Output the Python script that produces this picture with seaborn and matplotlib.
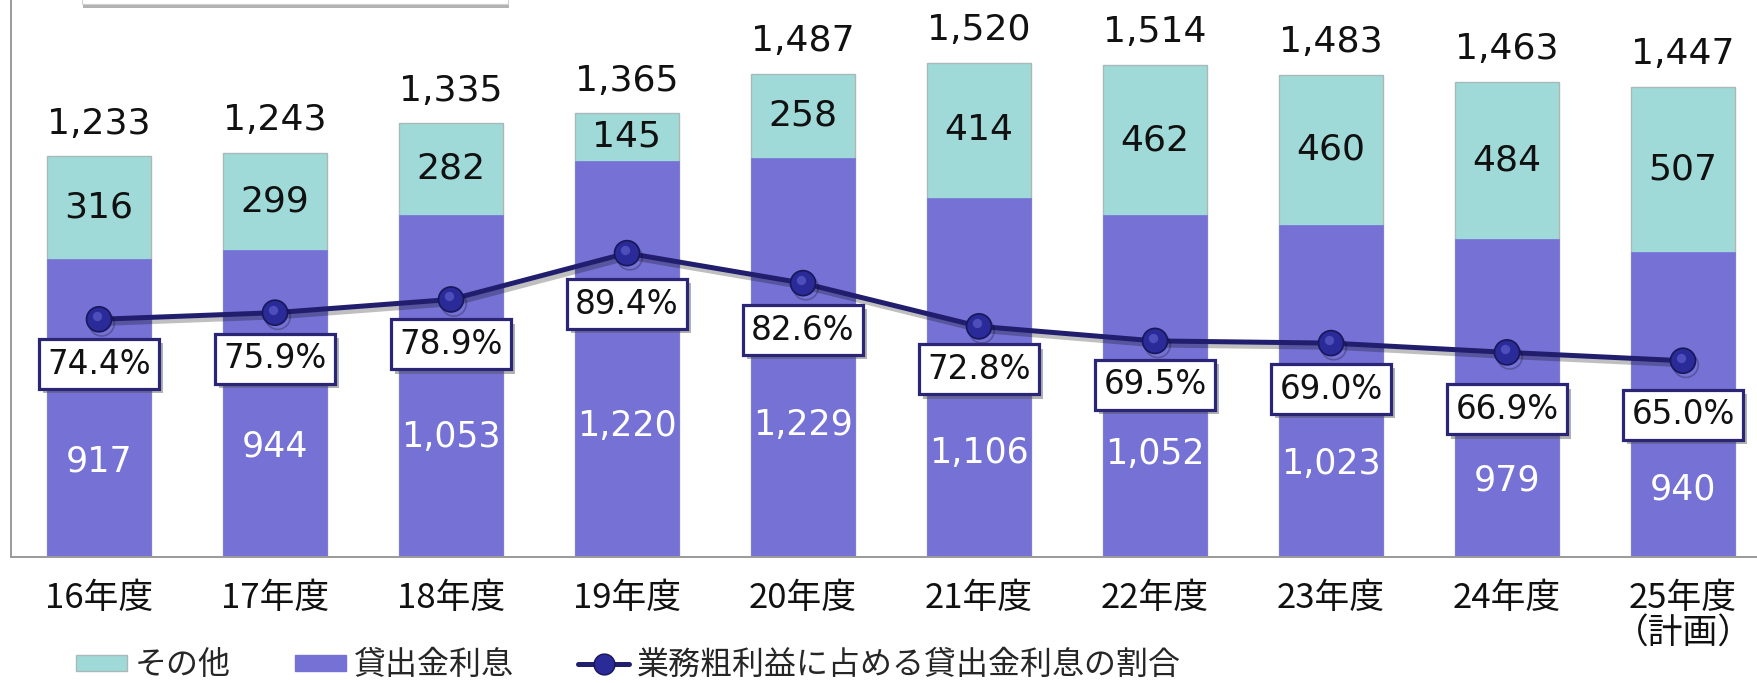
import numpy as np
import matplotlib
matplotlib.use("Agg")
import matplotlib.pyplot as plt
import matplotlib.patheffects as pe
import matplotlib.transforms as mtransforms
from matplotlib.patches import Patch, Rectangle
from matplotlib.lines import Line2D
import seaborn as sns

# --- data -------------------------------------------------------------
years = ["16年度", "17年度", "18年度", "19年度", "20年度",
         "21年度", "22年度", "23年度", "24年度", "25年度\n（計画）"]
loan_interest = [917, 944, 1053, 1220, 1229, 1106, 1052, 1023, 979, 940]
other_income = [316, 299, 282, 145, 258, 414, 462, 460, 484, 507]
gross_profit = [1233, 1243, 1335, 1365, 1487, 1520, 1514, 1483, 1463, 1447]
loan_ratio = [74.4, 75.9, 78.9, 89.4, 82.6, 72.8, 69.5, 69.0, 66.9, 65.0]

legend_labels = ["その他", "貸出金利息", "業務粗利益に占める貸出金利息の割合"]

# --- label layout -----------------------------------------------------
loan_label_frac = [0.32, 0.36, 0.35, 0.33, 0.33, 0.29, 0.30, 0.28, 0.24, 0.22]
ratio_label_drop = [45, 46, 45, 51, 47, 43, 44, 46, 57, 54]   # pixels below marker

# --- style ------------------------------------------------------------
TEAL = "#A0DAD8"
PURPLE = "#7672D5"
NAVY = "#221E6E"
MARKER = "#2A2A98"
CJK = ["Noto Sans CJK JP", "DejaVu Sans"]

sns.set_style("white")
plt.rcParams["font.family"] = ["DejaVu Sans", "Noto Sans CJK JP"]

W, H = 1758, 683
fig = plt.figure(figsize=(W / 100, H / 100), dpi=100)
fig.patch.set_facecolor("white")

# axes spans past the right edge of the canvas
ax = fig.add_axes([11 / W, (H - 557) / H, 1760 / W, 557 / H])
n = len(years)
x = np.arange(n)

df = {"year": years, "total": gross_profit, "loan": loan_interest}

# stacked bars: full height in teal, loan interest in purple over it
sns.barplot(x="year", y="total", data=df, color=TEAL, saturation=1,
            width=0.59, edgecolor="#A9B8B8", linewidth=1.0, ax=ax)
sns.barplot(x="year", y="loan", data=df, color=PURPLE, saturation=1,
            width=0.59, edgecolor=PURPLE, linewidth=0.5, ax=ax)

ax.set_xlim(-0.5, n - 0.5)
ax.set_ylim(0, 1714)
ax.set_xlabel("")
ax.set_ylabel("")
ax.set_yticks([])
ax.set_xticks(x)
ax.set_xticklabels(years, fontfamily=CJK, fontsize=25, color="#111111",
                   linespacing=1.05)
for lab in ax.get_xticklabels():
    lab.set_multialignment("center")
ax.tick_params(axis="x", which="major", length=0, pad=17)
ax.set_xticks(np.arange(0.5, n - 0.5, 1.0), minor=True)
ax.tick_params(axis="x", which="minor", direction="in", length=6,
               width=1.2, color="#9A9A9A")
for side in ("top", "right"):
    ax.spines[side].set_visible(False)
for side in ("left", "bottom"):
    ax.spines[side].set_color("#9A9A9A")
    ax.spines[side].set_linewidth(1.4)

# value labels on the bars
for i in range(n):
    ax.text(x[i], loan_interest[i] + other_income[i] / 2, f"{other_income[i]:,}",
            ha="center", va="center", fontsize=26, color="#111111")
    ax.text(x[i], loan_interest[i] * loan_label_frac[i], f"{loan_interest[i]:,}",
            ha="center", va="center", fontsize=25, color="white")
    ax.annotate(f"{gross_profit[i]:,}", (x[i], gross_profit[i]),
                xytext=(0, 23.5), textcoords="offset points",
                ha="center", va="center", fontsize=26, color="#111111")

# ratio line on a secondary scale
ax2 = ax.twinx()
sns.lineplot(x=x, y=loan_ratio, ax=ax2, color=NAVY, linewidth=3.6,
             marker="o", markersize=18, markerfacecolor=MARKER,
             markeredgecolor="#17175A", markeredgewidth=1.2,
             path_effects=[pe.SimpleLineShadow(offset=(2, -3), alpha=0.25),
                           pe.Normal()])
# soft highlight on each marker for a rounded look
hl = mtransforms.offset_copy(ax2.transData, fig=fig, x=-2, y=3, units="dots")
ax2.scatter(x, loan_ratio, s=45, color="#6A6AD8", alpha=0.55,
            linewidths=0, transform=hl, zorder=4)
ax2.set_ylim(20.5, 146.8)
ax2.set_xlim(-0.5, n - 0.5)
ax2.set_yticks([])
for side in ax2.spines:
    ax2.spines[side].set_visible(False)

for i in range(n):
    t = ax2.annotate(f"{loan_ratio[i]:.1f}%", (x[i], loan_ratio[i]),
                     xytext=(0, -ratio_label_drop[i] * 0.72),
                     textcoords="offset points", ha="center", va="center",
                     fontsize=23.5, color="#111111", zorder=5,
                     bbox=dict(boxstyle="square,pad=0.26", fc="white",
                               ec="#2B2575", lw=2.3))
    t.get_bbox_patch().set_path_effects(
        [pe.withSimplePatchShadow(offset=(3, -3), shadow_rgbFace="#555555",
                                  alpha=0.45)])

# legend along the bottom edge
handles = [
    Patch(facecolor=TEAL, edgecolor="#A9B8B8"),
    Patch(facecolor=PURPLE, edgecolor=PURPLE),
    Line2D([], [], color=NAVY, linewidth=3.6, marker="o", markersize=15,
           markerfacecolor=MARKER, markeredgecolor="#17175A"),
]
fig.legend(handles, legend_labels, loc="center left",
           bbox_to_anchor=(76 / W, 18 / H), ncol=3, frameon=False,
           prop={"family": CJK, "size": 23}, handlelength=1.6,
           handleheight=0.4, handletextpad=0.25, columnspacing=2.0,
           borderpad=0, borderaxespad=0)

# header panel running off the top edge
hdr = Rectangle((82 / W, 1 - 4 / H), 426 / W, 0.1, transform=fig.transFigure,
                facecolor="white", edgecolor="#D0D0D0", linewidth=0.8,
                clip_on=False, zorder=1)
hdr.set_path_effects([pe.withSimplePatchShadow(offset=(1, -3),
                                               shadow_rgbFace="#666666",
                                               alpha=0.5)])
fig.patches.append(hdr)

fig.savefig("out.png", dpi=100, facecolor="white")
